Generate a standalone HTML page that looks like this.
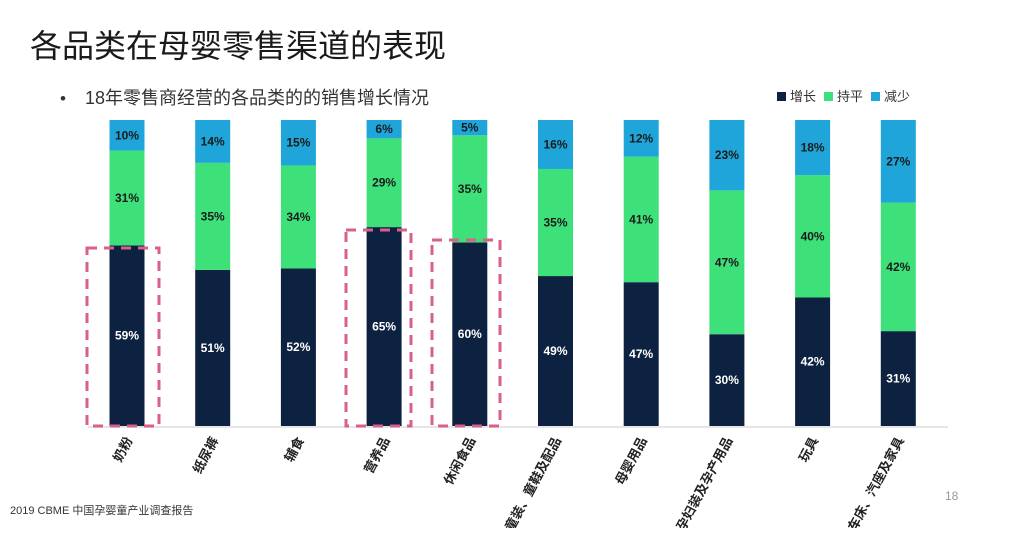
<!DOCTYPE html>
<html><head><meta charset="utf-8"><style>
body{margin:0;width:1015px;height:528px;background:#fff;overflow:hidden;font-family:"Liberation Sans","Noto Sans CJK SC",sans-serif;}
</style></head><body>
<svg width="1015" height="528" xmlns="http://www.w3.org/2000/svg" font-family="Liberation Sans, Noto Sans CJK SC, sans-serif">
<text x="30" y="57" font-size="32" fill="#1a1a1a">各品类在母婴零售渠道的表现</text>
<text x="60" y="104" font-size="17" fill="#333">•</text>
<text x="85" y="104" font-size="18" fill="#333">18年零售商经营的各品类的的销售增长情况</text>
<rect x="777" y="92" width="9" height="9" fill="#0d2240"/><text x="790" y="101" font-size="13" fill="#333">增长</text>
<rect x="824" y="92" width="9" height="9" fill="#3ee07a"/><text x="837" y="101" font-size="13" fill="#333">持平</text>
<rect x="871" y="92" width="9" height="9" fill="#1fa5d9"/><text x="884" y="101" font-size="13" fill="#333">减少</text>
<line x1="88" y1="427" x2="948" y2="427" stroke="#ddd" stroke-width="1.5"/>
<g id="bars" font-size="12" font-weight="bold" text-anchor="middle"></g>
<g fill="none" stroke="#d9608a" stroke-width="3" stroke-dasharray="10,7">
<rect x="87" y="248" width="72" height="178"/>
<rect x="346" y="230" width="65" height="196"/>
<rect x="432" y="240" width="68" height="186"/>
</g>
<g id="labels" font-size="13" font-weight="bold" fill="#222" text-anchor="end"></g>
<text x="10" y="514" font-size="11" fill="#333">2019 CBME 中国孕婴童产业调查报告</text>
<text x="945" y="500" font-size="12" fill="#999">18</text>
</svg>
<script>
(function(){
var d=[[59,31,10,"奶粉"],[51,35,14,"纸尿裤"],[52,34,15,"辅食"],[65,29,6,"营养品"],[60,35,5,"休闲食品"],[49,35,16,"童装、童鞋及配品"],[47,41,12,"母婴用品"],[30,47,23,"孕妇装及孕产用品"],[42,40,18,"玩具"],[31,42,27,"车床、汽座及家具"]];
var ns="http://www.w3.org/2000/svg",g=document.getElementById("bars"),L=document.getElementById("labels");
function el(p,t,a,tx){var e=document.createElementNS(ns,t);for(var k in a)e.setAttribute(k,a[k]);if(tx)e.textContent=tx;p.appendChild(e);return e;}
var yTop=120,bot=426,H=bot-yTop;
d.forEach(function(r,i){var cx=127+i*85.7,x=cx-17.5,s=r[0]+r[1]+r[2],y=bot;
[[r[0],"#0d2240","#fff"],[r[1],"#3ee07a","#1a1a1a"],[r[2],"#1fa5d9","#1a1a1a"]].forEach(function(c){var h=c[0]/s*H;y-=h;el(g,"rect",{x:x,y:y,width:35,height:h,fill:c[1]});el(g,"text",{x:cx,y:y+h/2+4,fill:c[2]},c[0]+"%");});
el(L,"text",{x:0,y:0,transform:"translate("+(cx+6)+",440) rotate(-62)"},r[3]);
});
})();
</script>
</body></html>
